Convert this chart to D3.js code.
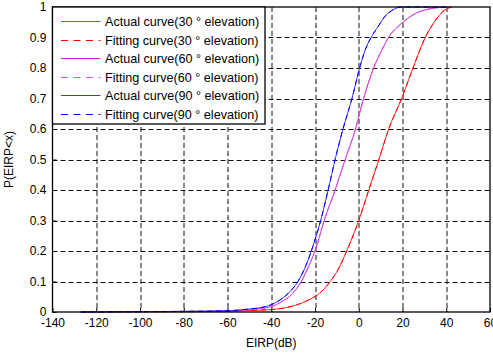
<!DOCTYPE html>
<html>
<head>
<meta charset="utf-8">
<script src="https://cdn.jsdelivr.net/npm/d3@7"></script>
<style>
  body { margin: 0; background: #fff; }
  svg { font-family: "Liberation Sans", Arial, sans-serif; }
</style>
</head>
<body>
<div id="chart-area"></div>
<script>
// values
var xTicks = [-140, -120, -100, -80, -60, -40, -20, 0, 20, 40, 60];
var yTicks = [0, 0.1, 0.2, 0.3, 0.4, 0.5, 0.6, 0.7, 0.8, 0.9, 1];

// 30 deg elevation
var x30 = [-127, -100, -80, -60, -50, -40, -31, -23, -18, -13, -9, -5.5, 0, 4.6, 9.2, 13.7, 19.6, 24.8, 30.4, 33.5, 36.2, 39.3, 42.4];
var p30 = [0, 0.001, 0.001, 0.003, 0.005, 0.008, 0.018, 0.039, 0.061, 0.1, 0.145, 0.2, 0.3, 0.4, 0.5, 0.6, 0.7, 0.8, 0.9, 0.94, 0.967, 0.99, 1];
// 60 deg elevation
var x60 = [-127, -100, -80, -60, -50, -45, -40, -36.2, -30.6, -26.3, -22, -20, -15.8, -10.8, -6.2, -1.5, 2.2, 6.8, 10.5, 13.6, 19.4, 23.2, 30, 40];
var p60 = [0, 0.001, 0.002, 0.003, 0.007, 0.011, 0.018, 0.03, 0.058, 0.1, 0.165, 0.2, 0.3, 0.4, 0.5, 0.6, 0.7, 0.8, 0.858, 0.9, 0.945, 0.967, 0.99, 1];
// 90 deg elevation
var x90 = [-127, -100, -80, -60, -50, -45, -40, -37.7, -32.4, -27.8, -24, -21.7, -17.4, -14, -10.8, -7.2, -3.1, 0.4, 3, 5.6, 8.7, 11.7, 15, 19.4, 40];
var p90 = [0, 0.001, 0.002, 0.004, 0.01, 0.014, 0.024, 0.032, 0.06, 0.1, 0.155, 0.2, 0.3, 0.4, 0.5, 0.6, 0.7, 0.8, 0.86, 0.9, 0.934, 0.967, 0.988, 1, 1];

// fitted curves lie on top of the measured ones in the picture
var fit30 = [-127, -100, -80, -60, -50, -40, -31, -23, -18, -13, -9, -5.5, 0, 4.6, 9.2, 13.7, 19.6, 24.8, 30.4, 33.5, 36.2, 39.3, 42.4];
var fit60 = [-127, -100, -80, -60, -50, -45, -40, -36.2, -30.6, -26.3, -22, -20, -15.8, -10.8, -6.2, -1.5, 2.2, 6.8, 10.5, 13.6, 19.4, 23.2, 30, 40];
var fit90 = [-127, -100, -80, -60, -50, -45, -40, -37.7, -32.4, -27.8, -24, -21.7, -17.4, -14, -10.8, -7.2, -3.1, 0.4, 3, 5.6, 8.7, 11.7, 15, 19.4, 40];

var series = [
  { name: 'Actual curve(30 \u00b0 elevation)', xs: x30, ps: p30, color: '#ff3030', dash: null },
  { name: 'Fitting curve(30 \u00b0 elevation)', xs: fit30, ps: p30, color: '#ff0000', dash: '5,4' },
  { name: 'Actual curve(60 \u00b0 elevation)', xs: x60, ps: p60, color: '#cc22cc', dash: null },
  { name: 'Fitting curve(60 \u00b0 elevation)', xs: fit60, ps: p60, color: '#e055e0', dash: '5,4' },
  { name: 'Actual curve(90 \u00b0 elevation)', xs: x90, ps: p90, color: '#3a3aff', dash: null },
  { name: 'Fitting curve(90 \u00b0 elevation)', xs: fit90, ps: p90, color: '#0000ee', dash: '5,4' }
];

var margin = { top: 7, right: 3, bottom: 41, left: 52.5 },
    width = 493 - margin.left - margin.right,
    height = 353 - margin.top - margin.bottom;

var svg = d3.select('#chart-area').append('svg')
    .attr('width', 493)
    .attr('height', 353)
    .append('g')
    .attr('transform', 'translate(' + margin.left + ',' + margin.top + ')');

var x = d3.scaleLinear().domain([-140, 60]).range([0, width]);
var y = d3.scaleLinear().domain([0, 1]).range([height, 0]);

// grid
svg.append('g').selectAll('line.vg')
  .data(xTicks.slice(1, -1))
  .enter().append('line')
  .attr('x1', function(d){ return Math.round(x(d)) + 0.5; })
  .attr('x2', function(d){ return Math.round(x(d)) + 0.5; })
  .attr('y1', 0).attr('y2', height)
  .attr('stroke', '#111').attr('stroke-width', 1)
  .attr('stroke-dasharray', '5,3');

svg.append('g').selectAll('line.hg')
  .data(yTicks.slice(1, -1))
  .enter().append('line')
  .attr('y1', function(d){ return Math.round(y(d)) + 0.5; })
  .attr('y2', function(d){ return Math.round(y(d)) + 0.5; })
  .attr('x1', 0).attr('x2', width)
  .attr('stroke', '#111').attr('stroke-width', 1)
  .attr('stroke-dasharray', '5,3');

// curves
var line = d3.line().curve(d3.curveMonotoneX);
series.forEach(function(s){
  var pts = s.xs.map(function(v, i){ return [x(v), y(s.ps[i])]; });
  svg.append('path')
    .attr('d', line(pts))
    .attr('fill', 'none')
    .attr('stroke', s.color)
    .attr('stroke-width', 1)
    .attr('stroke-dasharray', s.dash);
});

// axes
var xAxisCall = d3.axisBottom(x).tickValues(xTicks).tickSize(-4).tickPadding(6)
  .tickFormat(function(d){ return String(d); });
var xg = svg.append('g').attr('transform', 'translate(0,' + height + ')').call(xAxisCall);
var yAxisCall = d3.axisLeft(y).tickValues(yTicks).tickSize(-4).tickPadding(6)
  .tickFormat(function(d){ return d === 0 || d === 1 ? String(d) : d3.format('.1f')(d); });
var yg = svg.append('g').call(yAxisCall);
[xg, yg].forEach(function(g){
  g.select('.domain').remove();
  g.selectAll('text').attr('font-size', '12px').attr('fill', '#000')
    .attr('font-family', '"Liberation Sans", Arial, sans-serif');
  g.selectAll('line').attr('stroke', '#000');
});

svg.append('rect')
  .attr('x', 0).attr('y', 0).attr('width', width).attr('height', height)
  .attr('fill', 'none').attr('stroke', '#000').attr('stroke-width', 1.3);

// labels
svg.append('text')
  .attr('x', width / 2).attr('y', height + 35)
  .attr('font-size', '12px').attr('text-anchor', 'middle')
  .text('EIRP(dB)');

svg.append('text')
  .attr('x', -height / 2).attr('y', -40)
  .attr('font-size', '12px').attr('text-anchor', 'middle')
  .attr('transform', 'rotate(-90)')
  .text('P(EIRP<x)');

// legend
var lg = svg.append('g');
lg.append('rect')
  .attr('x', 0).attr('y', 0).attr('width', 212.5).attr('height', 117)
  .attr('fill', '#fff').attr('stroke', '#000').attr('stroke-width', 1.3);
series.forEach(function(s, i){
  var yy = Math.round(14 + i * 18.5) + 0.5;
  lg.append('line')
    .attr('x1', 8.5).attr('x2', 48).attr('y1', yy).attr('y2', yy)
    .attr('stroke', s.color).attr('stroke-width', 1)
    .attr('stroke-dasharray', s.dash ? '7,5.5' : null);
  lg.append('text')
    .attr('x', 52.5).attr('y', yy + 4.5)
    .attr('font-size', '12.6px')
    .text(s.name);
});
</script>
</body>
</html>
